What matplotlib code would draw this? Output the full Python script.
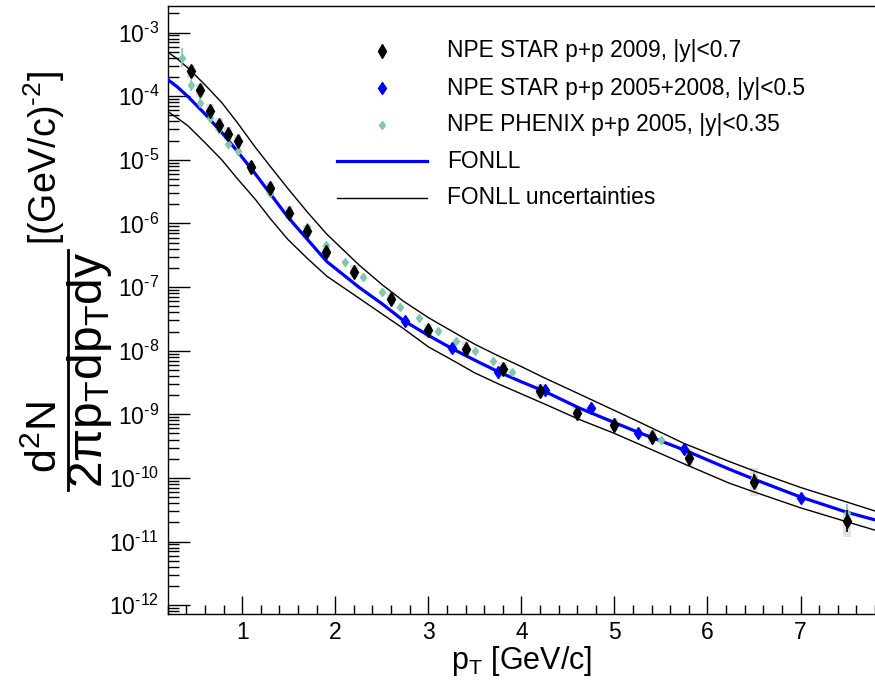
import numpy as np
import matplotlib
matplotlib.use('Agg')
import matplotlib.pyplot as plt
from matplotlib.ticker import FixedLocator, LogLocator, FuncFormatter, MultipleLocator, NullFormatter

plt.rcParams['font.family'] = ['Liberation Sans', 'DejaVu Sans']
plt.rcParams['mathtext.fontset'] = 'custom'
plt.rcParams['mathtext.rm'] = 'Liberation Sans'
plt.rcParams['mathtext.it'] = 'Liberation Sans'
plt.rcParams['mathtext.bf'] = 'Liberation Sans:bold'
plt.rcParams['mathtext.sf'] = 'Liberation Sans'

# FONLL curves (central, upper, lower)
fonll_pt = [0.2, 0.3, 0.42, 0.6, 0.78, 0.95, 1.14, 1.3, 1.49, 1.7, 1.91, 2.26, 2.5, 2.73,
            3.0, 3.26, 3.5, 3.75, 4.0, 4.25, 4.62, 5.0, 5.25, 5.75, 6.23, 6.5, 7.0, 7.5, 7.8]
fonll_central = [1.82e-4, 1.41e-4, 9.77e-5, 5.25e-5, 2.69e-5, 1.35e-5, 6.03e-6, 2.95e-6,
                 1.26e-6, 5.62e-7, 2.51e-7, 9.8e-8, 5.5e-8, 3.0e-8, 1.74e-8, 1.07e-8,
                 7.08e-9, 4.68e-9, 3.24e-9, 2.29e-9, 1.26e-9, 7.41e-10, 5.25e-10, 2.75e-10,
                 1.38e-10, 9.55e-11, 5.01e-11, 2.88e-11, 2.19e-11]
fonll_upper = [4.90e-4, 3.89e-4, 2.75e-4, 1.51e-4, 7.94e-5, 3.80e-5, 1.58e-5, 7.94e-6,
               3.55e-6, 1.51e-6, 6.76e-7, 2.19e-7, 1.10e-7, 6.03e-8, 3.31e-8, 2.00e-8,
               1.26e-8, 8.32e-9, 5.62e-9, 3.72e-9, 2.09e-9, 1.15e-9, 7.76e-10, 3.47e-10,
               1.82e-10, 1.29e-10, 7.08e-11, 4.17e-11, 3.02e-11]
fonll_lower = [5.75e-5, 4.57e-5, 3.39e-5, 1.86e-5, 1.00e-5, 5.01e-6, 2.40e-6, 1.20e-6,
               5.62e-7, 2.82e-7, 1.48e-7, 6.61e-8, 3.80e-8, 2.24e-8, 1.15e-8, 7.08e-9,
               4.47e-9, 3.02e-9, 2.09e-9, 1.45e-9, 8.32e-10, 5.01e-10, 3.47e-10, 1.66e-10,
               8.32e-11, 6.03e-11, 3.39e-11, 2.04e-11, 1.51e-11]

# NPE STAR p+p 2009 (stat / sys errors given in decades)
star09_pt = [0.45, 0.55, 0.65, 0.75, 0.85, 0.95, 1.1, 1.3, 1.5, 1.7, 1.9, 2.2, 2.6, 3.0,
             3.4, 3.8, 4.2, 4.6, 5.0, 5.4, 5.8, 6.5, 7.5]
star09_val = [2.45e-4, 1.23e-4, 5.9e-5, 3.55e-5, 2.57e-5, 1.95e-5, 7.6e-6, 3.6e-6, 1.48e-6,
              7.6e-7, 3.55e-7, 1.74e-7, 6.6e-8, 2.1e-8, 1.07e-8, 5.2e-9, 2.3e-9, 1.05e-9,
              6.9e-10, 4.4e-10, 2.05e-10, 8.7e-11, 2.1e-11]
star09_stat = [0.05, 0.05, 0.05, 0.05, 0.05, 0.05, 0.05, 0.05, 0.07, 0.07, 0.07, 0.07, 0.07,
               0.07, 0.06, 0.06, 0.06, 0.06, 0.06, 0.06, 0.12, 0.12, 0.17]
star09_sys_up = [0.1, 0.1, 0.1, 0.1, 0.1, 0.1, 0.1, 0.1, 0.1, 0.1, 0.1, 0.1, 0.1, 0.1,
                 0.12, 0.11, 0.11, 0.1, 0.1, 0.11, 0.14, 0.22, 0.16]
star09_sys_dn = [0.1, 0.1, 0.1, 0.1, 0.1, 0.1, 0.1, 0.1, 0.1, 0.1, 0.1, 0.1, 0.1, 0.1,
                 0.12, 0.11, 0.11, 0.1, 0.1, 0.11, 0.14, 0.22, 0.25]

# NPE STAR p+p 2005+2008
star05_pt = [2.75, 3.25, 3.75, 4.25, 4.75, 5.25, 5.75, 7.0]
star05_val = [2.9e-8, 1.1e-8, 4.7e-9, 2.4e-9, 1.26e-9, 5.1e-10, 2.8e-10, 4.8e-11]
star05_err = [0.06, 0.05, 0.04, 0.04, 0.05, 0.05, 0.06, 0.05]

# NPE PHENIX p+p 2005
phenix_pt = [0.35, 0.45, 0.55, 0.65, 0.75, 0.85, 0.95, 1.1, 1.3, 1.5, 1.7, 1.9, 2.1, 2.3,
             2.5, 2.7, 2.9, 3.1, 3.3, 3.5, 3.7, 3.9, 5.5, 6.5, 7.5]
phenix_val = [4.0e-4, 1.5e-4, 7.9e-5, 4.6e-5, 3.0e-5, 1.78e-5, 1.35e-5, 7.6e-6, 3.0e-6,
              1.55e-6, 8.9e-7, 4.6e-7, 2.45e-7, 1.45e-7, 8.3e-8, 4.9e-8, 3.3e-8, 2.05e-8,
              1.4e-8, 9.8e-9, 6.8e-9, 4.6e-9, 3.9e-10, 1.0e-10, 2.8e-11]
phenix_err = [0.15, 0.09, 0.08, 0.08, 0.07, 0.07, 0.07, 0.05, 0.05, 0.05, 0.05, 0.04, 0.04,
              0.04, 0.04, 0.04, 0.04, 0.04, 0.04, 0.04, 0.04, 0.04, 0.05, 0.1, 0.15]

y_decades = [1e-12, 1e-11, 1e-10, 1e-9, 1e-8, 1e-7, 1e-6, 1e-5, 1e-4, 1e-3]

legend_labels = ["NPE STAR p+p 2009, |y|<0.7", "NPE STAR p+p 2005+2008, |y|<0.5",
                 "NPE PHENIX p+p 2005, |y|<0.35", "FONLL", "FONLL uncertainties"]

teal = '#82c8aa'
grey_box = '#e2e2e2'


def asym(vals, dn, up):
    v = np.array(vals)
    return [v - v * 10 ** (-np.array(dn)), v * 10 ** np.array(up) - v]


def pow_label(v, pos):
    # ROOT style exponent with a plain hyphen
    return r'$10^{\text{-}%d}$' % int(round(-np.log10(v)))


fig = plt.figure(figsize=(8.75, 6.81), dpi=100)
ax = fig.add_axes([0.1917, 0.098, 0.8083, 0.893])

# systematic boxes of STAR 2009
v09 = np.array(star09_val)
box_lo = v09 * 10 ** (-np.array(star09_sys_dn))
box_hi = v09 * 10 ** np.array(star09_sys_up)
ax.bar(star09_pt, box_hi - box_lo, bottom=box_lo, width=0.085, color=grey_box,
       edgecolor='none', zorder=1)

# FONLL
ax.plot(fonll_pt, fonll_upper, color='black', lw=1.0, zorder=2)
ax.plot(fonll_pt, fonll_lower, color='black', lw=1.0, zorder=2)
ax.plot(fonll_pt, fonll_central, color='blue', lw=2.3, zorder=3)

# data
ax.errorbar(phenix_pt, phenix_val, yerr=asym(phenix_val, phenix_err, phenix_err),
            fmt='d', ms=4.5, color=teal, ecolor=teal, elinewidth=1.2, capsize=0, zorder=4)
ax.errorbar(star05_pt, star05_val, yerr=asym(star05_val, star05_err, star05_err),
            fmt='d', ms=6, color='blue', ecolor='blue', elinewidth=1.2, capsize=0, zorder=5)
ax.errorbar(star09_pt, star09_val, yerr=asym(star09_val, star09_stat, star09_stat),
            fmt='d', ms=7, color='black', ecolor='black', elinewidth=1.2, capsize=0, zorder=6)

ax.set_yscale('log')
ax.set_xlim(0.2, 7.8)
ax.set_ylim(7.2e-13, 2.6e-3)

ax.yaxis.set_major_locator(FixedLocator(y_decades))
ax.yaxis.set_minor_locator(LogLocator(base=10, subs=np.arange(2, 10), numticks=200))
ax.yaxis.set_major_formatter(FuncFormatter(pow_label))
ax.yaxis.set_minor_formatter(NullFormatter())
ax.xaxis.set_major_locator(MultipleLocator(1))
ax.xaxis.set_minor_locator(MultipleLocator(0.2))

ax.tick_params(axis='y', which='major', direction='in', length=16, width=1, labelsize=16.5, pad=6)
ax.tick_params(axis='y', which='minor', direction='in', length=8, width=1)
ax.tick_params(axis='x', which='major', direction='in', length=13, width=1, labelsize=16.5, pad=5)
ax.tick_params(axis='x', which='minor', direction='in', length=6.5, width=1)
ax.tick_params(top=False, right=False, which='both')
ax.spines['right'].set_visible(False)
for s in ['left', 'bottom', 'top']:
    ax.spines[s].set_linewidth(1)

ax.set_xlabel(r'p$_{\mathrm{T}}$ [GeV/c]', fontsize=22, labelpad=0)

# y title, built from numerator, bar, denominator and unit (rotated)
W, H = 875.0, 681.0
fig.text(46 / W, 1 - 437 / H, r'$\mathrm{d}^{2}\mathrm{N}$', rotation=90, fontsize=31,
         ha='center', va='center')
fig.lines.append(plt.Line2D([68 / W, 68 / W], [1 - 490 / H, 1 - 250 / H], color='black',
                            lw=2, transform=fig.transFigure))
fig.text(90 / W, 1 - 370 / H,
         r'$2\pi \mathrm{p}_{\mathrm{T}}\mathrm{dp}_{\mathrm{T}}\mathrm{dy}$',
         rotation=90, fontsize=34.5, ha='center', va='center')
fig.text(44 / W, 1 - 158 / H, r'[(GeV/c)$^{\text{-}2}$]', rotation=90, fontsize=27,
         ha='center', va='center')

# legend drawn by hand
rows = [51, 88, 125, 161, 198]
fig.lines.append(plt.Line2D([382 / W], [1 - rows[0] / H], marker='d', ms=7, color='black',
                            transform=fig.transFigure))
fig.lines.append(plt.Line2D([382 / W], [1 - rows[1] / H], marker='d', ms=6, color='blue',
                            transform=fig.transFigure))
fig.lines.append(plt.Line2D([382 / W], [1 - rows[2] / H], marker='d', ms=4.5, color=teal,
                            transform=fig.transFigure))
fig.lines.append(plt.Line2D([337 / W, 427 / W], [1 - rows[3] / H] * 2, color='blue', lw=2.3,
                            transform=fig.transFigure))
fig.lines.append(plt.Line2D([337 / W, 427 / W], [1 - rows[4] / H] * 2, color='black', lw=1.0,
                            transform=fig.transFigure))
for r, lab in zip(rows, legend_labels):
    fig.text(447 / W, 1 - r / H, lab, fontsize=16.4, ha='left', va='center')

fig.savefig('out.png', dpi=100)
